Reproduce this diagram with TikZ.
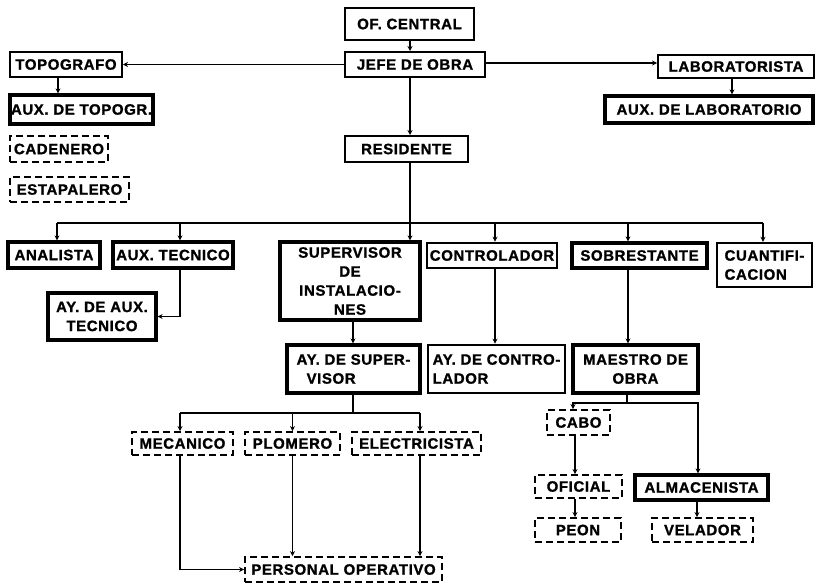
\documentclass[tikz,border=0pt]{standalone}
\usepackage{fontspec}
\setmainfont{Liberation Sans}[LetterSpace=4, BoldFeatures={FakeBold=1.2}]
\usetikzlibrary{arrows.meta}
\newcommand\boxfont{\fontsize{15}{19}\selectfont\bfseries}
\begin{document}
\begin{tikzpicture}[x=1pt, y=-1pt,
                    rect/.style={draw, rectangle, line width=2pt, inner xsep=0.5pt, inner ysep=1pt, align=center, font=\boxfont},
                    rectb/.style={rect, line width=3.2pt},
                    drect/.style={rect, line width=1.8pt, dash pattern=on 7pt off 4pt},
                    arrow/.style={draw, line width=1.5pt, -{Stealth[length=5pt,width=5pt]}},
                    line/.style={draw, line width=1.5pt},
                    coord/.style={minimum size=0, inner sep=0}]
  \useasboundingbox (0,0) rectangle (821,584);
  % top
  \node(ofc)[rect, minimum width=129, minimum height=32] at (409.5,24) {OF. CENTRAL};
  \node(jefe)[rect, minimum width=140, minimum height=25] at (415,64.5) {JEFE DE OBRA};
  \node(topo)[rect, minimum width=112, minimum height=25] at (66,64.5) {TOPOGRAFO};
  \node(auxtopo)[rectb, minimum width=143, minimum height=29] at (81.5,109.5) {AUX. DE TOPOGR.};
  \node(caden)[drect, minimum width=98, minimum height=26] at (59,149) {CADENERO};
  \node(estap)[drect, minimum width=119, minimum height=25] at (69.5,189.5) {ESTAPALERO};
  \node(lab)[rect, minimum width=156, minimum height=23] at (736,66.5) {LABORATORISTA};
  \node(auxlab)[rectb, minimum width=208, minimum height=27] at (709,109.5) {AUX. DE LABORATORIO};
  \node(resid)[rect, minimum width=123, minimum height=26] at (406.5,149) {RESIDENTE};
  % second level
  \node(analista)[rectb, minimum width=92, minimum height=26] at (54,255) {ANALISTA};
  \node(auxtec)[rectb, minimum width=120, minimum height=26] at (173,255) {AUX. TECNICO};
  \node(ayaux)[rectb, minimum width=108, minimum height=47] at (102,316.5) {AY. DE AUX.\\TECNICO};
  \node(superv)[rectb, minimum width=140, minimum height=78] at (350,281) {SUPERVISOR\\DE\\INSTALACIO-\\NES};
  \node(aysup)[rectb, minimum width=133, minimum height=48, align=left] at (353.5,369) {AY. DE SUPER-\\\hspace{10pt}VISOR};
  \node(control)[rectb, line width=2.6pt, minimum width=130, minimum height=25] at (492,255.5) {CONTROLADOR};
  \node(aycon)[rectb, line width=2.6pt, minimum width=137, minimum height=48, align=left] at (496.5,369) {AY. DE CONTRO-\\LADOR};
  \node(sobres)[rectb, minimum width=135, minimum height=25] at (639.5,255.5) {SOBRESTANTE};
  \node(cuant)[rect, line width=2.4pt, minimum width=95, minimum height=44, align=left] at (764.5,265) {CUANTIFI-\\CACION};
  \node(maestro)[rectb, minimum width=125, minimum height=48] at (635.5,369) {MAESTRO DE\\OBRA};
  % operatives
  \node(mecan)[drect, minimum width=101, minimum height=23] at (182.5,443.5) {MECANICO};
  \node(plomero)[drect, minimum width=95, minimum height=23] at (292.5,443.5) {PLOMERO};
  \node(electr)[drect, minimum width=129, minimum height=23] at (416.5,443.5) {ELECTRICISTA};
  \node(personal)[drect, minimum width=197, minimum height=25] at (343.5,569.5) {PERSONAL OPERATIVO};
  \node(cabo)[drect, minimum width=63, minimum height=25] at (578.5,422.5) {CABO};
  \node(oficial)[drect, minimum width=87, minimum height=23] at (578.5,486.5) {OFICIAL};
  \node(almac)[rectb, minimum width=133, minimum height=25] at (701.5,487.5) {ALMACENISTA};
  \node(peon)[drect, minimum width=86, minimum height=24] at (578,530) {PEON};
  \node(velador)[drect, minimum width=101, minimum height=24] at (702.5,530) {VELADOR};
  \coordinate(busl) at (57,223);
  \coordinate(busr) at (763,223);
  \coordinate(sbus) at (353,413);
  \coordinate(mbus) at (627,403);
  % connectors
  \draw[arrow] ([xshift=0.5]ofc.south) -- ([xshift=0.5]ofc.south |- jefe.north);
  \draw[arrow] (jefe.west) -- (topo.east);
  \draw[arrow] ([yshift=1.5]jefe.east) -- ([yshift=1.5]jefe.east -| lab.west);
  \draw[arrow] ([xshift=-8]topo.south) -- ([xshift=-8]topo.south |- auxtopo.north);
  \draw[arrow] ([xshift=-4]lab.south) -- ([xshift=-4]lab.south |- auxlab.north);
  \draw[arrow] ([xshift=-5]jefe.south) -- ([xshift=-5]jefe.south |- resid.north);
  \draw[arrow] ([xshift=3.5]resid.south) -- ([xshift=3.5]resid.south |- superv.north);
  \draw[line] (busl) -- (busr);
  \draw[arrow] (busl) -- (busl |- analista.north);
  \draw[arrow] ([xshift=7]auxtec.north |- busl) -- ([xshift=7]auxtec.north);
  \draw[arrow] ([xshift=3]control.north |- busl) -- ([xshift=3]control.north);
  \draw[arrow] ([xshift=-11.5]sobres.north |- busl) -- ([xshift=-11.5]sobres.north);
  \draw[arrow] (busr) -- (busr |- cuant.north);
  \draw[arrow] ([xshift=7]auxtec.south) |- (ayaux.east);
  \draw[arrow] ([xshift=3]superv.south) -- ([xshift=3]superv.south |- aysup.north);
  \draw[arrow] ([xshift=3]control.south) -- ([xshift=3]control.south |- aycon.north);
  \draw[arrow] ([xshift=-11.5]sobres.south) -- ([xshift=-11.5]sobres.south |- maestro.north);
  \draw[line] (aysup.south -| sbus) -- (sbus);
  \draw[line] ([xshift=-2.5]mecan.north |- sbus) -- ([xshift=3.5]electr.north |- sbus);
  \draw[arrow] ([xshift=-2.5]mecan.north |- sbus) -- ([xshift=-2.5]mecan.north);
  \draw[arrow] (plomero.north |- sbus) -- (plomero.north);
  \draw[arrow] ([xshift=3.5]electr.north |- sbus) -- ([xshift=3.5]electr.north);
  \draw[arrow] ([xshift=-2.5]mecan.south) |- (personal.west);
  \draw[arrow] (plomero.south) -- (plomero.south |- personal.north);
  \draw[arrow] ([xshift=3.5]electr.south) -- ([xshift=3.5]electr.south |- personal.north);
  \draw[line] (maestro.south -| mbus) -- (mbus);
  \draw[arrow] (mbus) -| ([xshift=-5.5]cabo.north);
  \draw[arrow] (mbus) -| ([xshift=-3.5]almac.north);
  \draw[arrow] ([xshift=-3.5]cabo.south) -- ([xshift=-3.5]cabo.south |- oficial.north);
  \draw[arrow] ([xshift=-3.5]oficial.south) -- ([xshift=-3.5]oficial.south |- peon.north);
  \draw[arrow] ([xshift=-4.5]almac.south) -- ([xshift=-4.5]almac.south |- velador.north);
\end{tikzpicture}
\end{document}
